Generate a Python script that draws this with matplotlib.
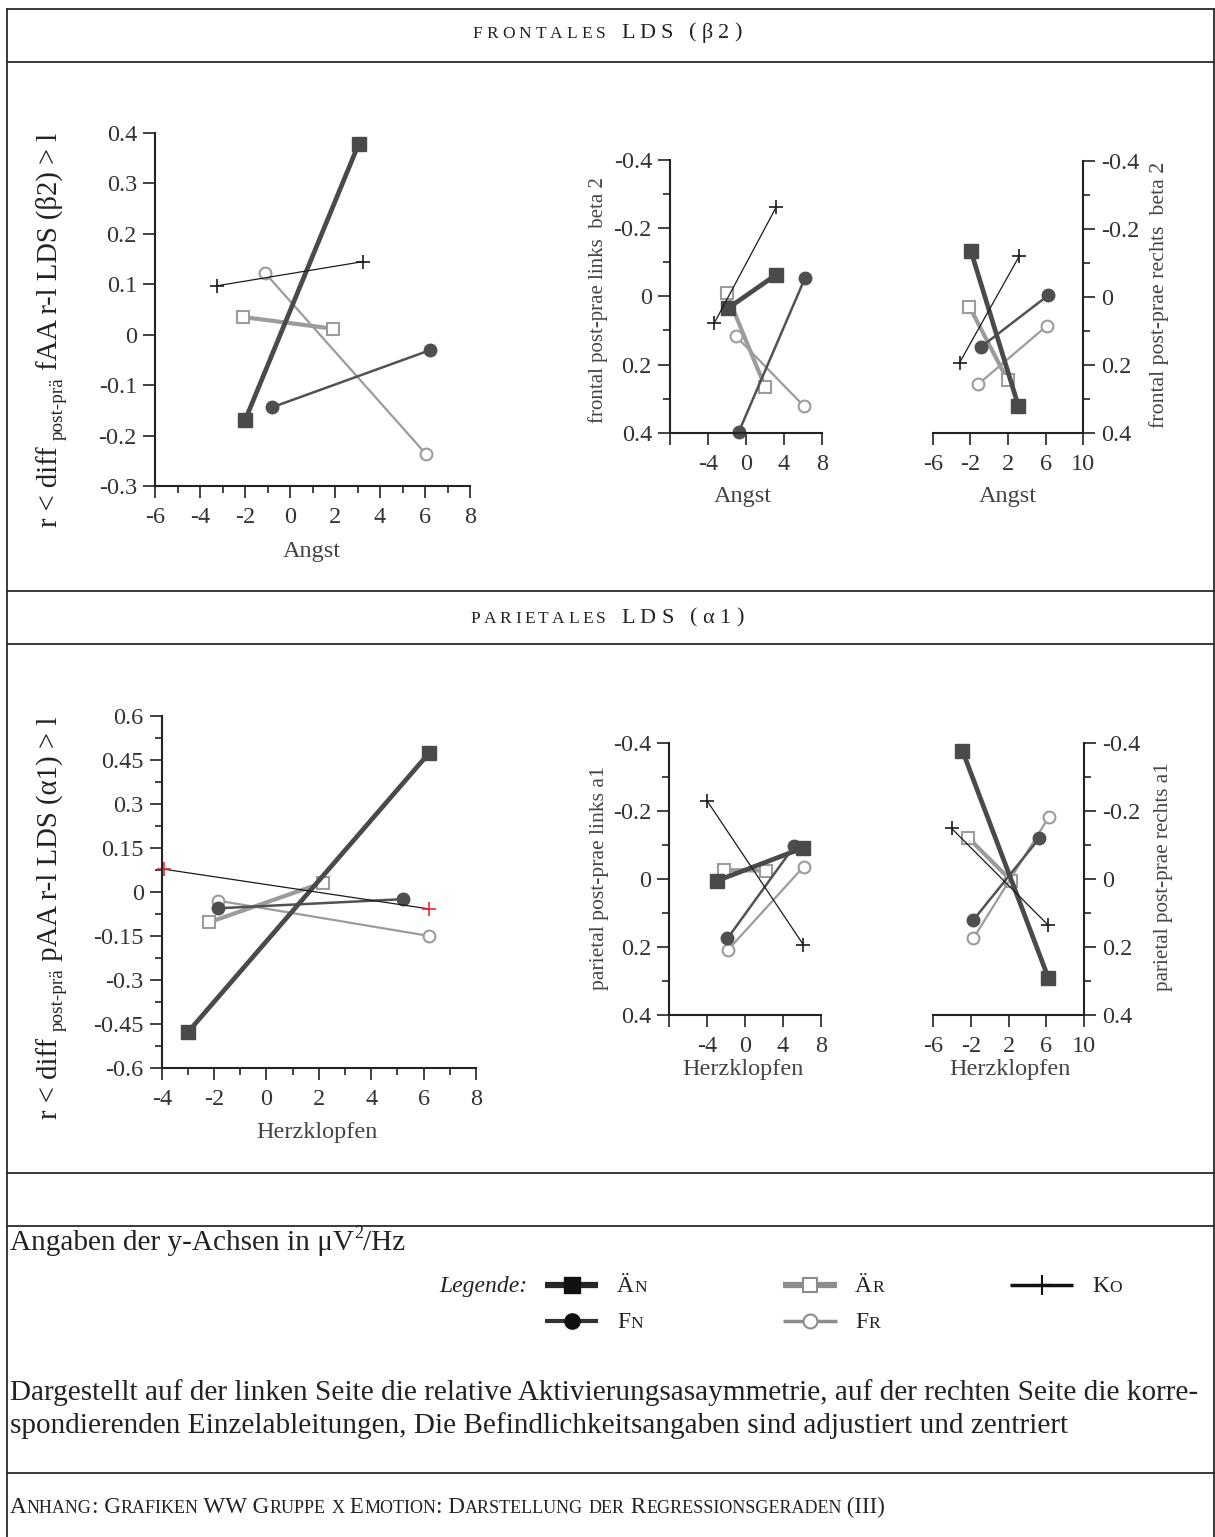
import matplotlib
matplotlib.use("Agg")
import matplotlib.pyplot as plt
from matplotlib.lines import Line2D

W, H = 1215, 1537
plt.rcParams["font.family"] = ["Liberation Serif", "DejaVu Serif"]
plt.rcParams["axes.unicode_minus"] = False

SERIES = ["Än", "Fn", "Är", "Fr", "Ko"]

# ---------------- frontal LDS (beta 2), x = Angst ----------------
# relative asymmetry (r-l)
fa_x0 = [-2.0, -0.8, -2.07, -1.1, -3.25]
fa_x1 = [3.05, 6.2, 1.9, 6.05, 3.25]
fa_y0 = [-0.17, -0.144, 0.035, 0.122, 0.097]
fa_y1 = [0.378, -0.031, 0.012, -0.237, 0.145]
# left lead
fl_x0 = [-1.9, -0.75, -2.05, -1.1, -3.35]
fl_x1 = [3.15, 6.2, 2.0, 6.1, 3.2]
fl_y0 = [0.035, 0.397, -0.009, 0.116, 0.079]
fl_y1 = [-0.063, -0.053, 0.265, 0.322, -0.263]
# right lead
fr_x0 = [-1.95, -0.85, -2.1, -1.15, -3.15]
fr_x1 = [3.1, 6.25, 1.95, 6.1, 3.2]
fr_y0 = [-0.136, 0.147, 0.029, 0.257, 0.194]
fr_y1 = [0.321, -0.004, 0.245, 0.086, -0.12]

# ---------------- parietal LDS (alpha 1), x = Herzklopfen ----------------
pa_x0 = [-3.0, -1.85, -2.2, -1.85, -3.9]
pa_x1 = [6.2, 5.2, 2.15, 6.2, 6.2]
pa_y0 = [-0.477, -0.055, -0.103, -0.029, 0.078]
pa_y1 = [0.473, -0.024, 0.032, -0.149, -0.057]
pl_x0 = [-3.0, -1.85, -2.2, -1.8, -4.0]
pl_x1 = [6.15, 5.2, 2.2, 6.2, 6.15]
pl_y0 = [0.006, 0.175, -0.026, 0.209, -0.229]
pl_y1 = [-0.091, -0.096, -0.024, -0.036, 0.193]
pr_x0 = [-2.9, -1.75, -2.3, -1.75, -4.05]
pr_x1 = [6.2, 5.25, 2.3, 6.3, 6.2]
pr_y0 = [-0.376, 0.121, -0.121, 0.175, -0.148]
pr_y1 = [0.29, -0.119, 0.006, -0.183, 0.136]

# tick values and labels
fa_xticks = [-6, -4, -2, 0, 2, 4, 6, 8]
fa_xlabels = ["-6", "-4", "-2", "0", "2", "4", "6", "8"]
fa_xminor = [-5, -3, -1, 1, 3, 5, 7]
fa_yticks = [-0.3, -0.2, -0.1, 0, 0.1, 0.2, 0.3, 0.4]
fa_ylabels = ["-0.3", "-0.2", "-0.1", "0", "0.1", "0.2", "0.3", "0.4"]

pa_xticks = [-4, -2, 0, 2, 4, 6, 8]
pa_xlabels = ["-4", "-2", "0", "2", "4", "6", "8"]
pa_xminor = [-3, -1, 1, 3, 5, 7]
pa_yticks = [-0.6, -0.45, -0.3, -0.15, 0, 0.15, 0.3, 0.45, 0.6]
pa_ylabels = ["-0.6", "-0.45", "-0.3", "-0.15", "0", "0.15", "0.3", "0.45", "0.6"]
pa_yminor = [-0.525, -0.375, -0.225, -0.075, 0.075, 0.225, 0.375, 0.525]

left_xticks = [-8, -4, 0, 4, 8]
left_xlabels = ["", "-4", "0", "4", "8"]
right_xticks = [-6, -2, 2, 6, 10]
right_xlabels = ["-6", "-2", "2", "6", "10"]
lead_yticks = [-0.4, -0.2, 0, 0.2, 0.4]
lead_ylabels = ["-0.4", "-0.2", "0", "0.2", "0.4"]
lead_yminor = [-0.3, -0.1, 0.1, 0.3]

STYLE = {
    "Än": dict(color="#4a4a4a", lw=3.4, marker="s", ms=9.5, mfc="#4a4a4a", mec="#4a4a4a", mew=1.0),
    "Fn": dict(color="#525252", lw=1.8, marker="o", ms=9.0, mfc="#4f4f4f", mec="#4f4f4f", mew=1.0),
    "Är": dict(color="#9c9c9c", lw=3.0, marker="s", ms=8.5, mfc="white", mec="#9c9c9c", mew=1.5),
    "Fr": dict(color="#9c9c9c", lw=1.6, marker="o", ms=8.5, mfc="white", mec="#9c9c9c", mew=1.5),
    "Ko": dict(color="#1a1a1a", lw=0.9, marker="+", ms=10, mfc="#1a1a1a", mec="#1a1a1a", mew=1.2),
}
LEG_STYLE = {
    "Än": dict(color="#262626", lw=4.5, marker="s", ms=11, mfc="#111111", mec="#111111", mew=1.0),
    "Fn": dict(color="#333333", lw=3.0, marker="o", ms=11, mfc="#111111", mec="#111111", mew=1.0),
    "Är": dict(color="#8c8c8c", lw=4.5, marker="s", ms=10, mfc="white", mec="#8c8c8c", mew=1.5),
    "Fr": dict(color="#8c8c8c", lw=2.5, marker="o", ms=10, mfc="white", mec="#8c8c8c", mew=1.5),
    "Ko": dict(color="#111111", lw=2.5, marker="+", ms=14, mfc="#111111", mec="#111111", mew=1.5),
}

fig = plt.figure(figsize=(W / 100, H / 100), dpi=100)
fig.patch.set_facecolor("white")
renderer = fig.canvas.get_renderer()

_adv_cache = {}


def adv(s, size, style="normal"):
    key = (s, round(size, 3), style)
    if key not in _adv_cache:
        t1 = fig.text(0, 0, "x" + s + "x", fontsize=size, style=style)
        t2 = fig.text(0, 0, "xx", fontsize=size, style=style)
        w = t1.get_window_extent(renderer).width - t2.get_window_extent(renderer).width
        t1.remove()
        t2.remove()
        _adv_cache[key] = w
    return _adv_cache[key]


def run_pieces(runs, split):
    out = []
    for text, size, rise in runs:
        if split:
            out += [(ch, size, rise) for ch in text]
        else:
            out.append((text, size, rise))
    return out


def runs_width(runs, split=False, track=0.0, style="normal"):
    p = run_pieces(runs, split)
    return sum(adv(s, z, style) for s, z, _ in p) + track * (len(p) - 1)


def fit_runs(runs, target, style="normal"):
    k = target / runs_width(runs, style=style)
    return [(t, z * k, r * k) for t, z, r in runs]


def place_runs(x, y, runs, ha="left", split=False, track=0.0, rotation=0,
               color="#222222", style="normal"):
    p = run_pieces(runs, split)
    ws = [adv(s, z, style) for s, z, _ in p]
    total = sum(ws) + track * (len(p) - 1)
    pos = {"left": 0.0, "center": -total / 2, "right": -total}[ha]
    for (s, z, rise), w in zip(p, ws):
        if rotation == 90:
            px, py = x - rise, y - pos
        else:
            px, py = x + pos, y - rise
        if s.strip():
            fig.text(px / W, 1 - py / H, s, fontsize=z, color=color, style=style,
                     rotation=rotation, rotation_mode="anchor", ha="left", va="baseline")
        pos += w + track


def tracked(x0, x1, y, runs, color="#222222"):
    """Letter-spaced text spread from x0 to x1."""
    n = len(run_pieces(runs, True))
    track = (x1 - x0 - runs_width(runs, split=True)) / (n - 1)
    place_runs(x0, y, runs, split=True, track=track, color=color)


def small_caps(text, size, ratio=0.75):
    runs = []
    for ch in text:
        if ch.isascii() and ch.islower():
            item = (ch.upper(), size * ratio, 0.0)
        else:
            item = (ch, size, 0.0)
        if runs and runs[-1][1] == item[1]:
            runs[-1] = (runs[-1][0] + item[0], item[1], 0.0)
        else:
            runs.append(item)
    return runs


def hline(y, x0=7, x1=1213.5, lw=1.3):
    fig.add_artist(Line2D([x0 / W, x1 / W], [1 - y / H] * 2, transform=fig.transFigure,
                          color="#2a2a2a", lw=lw))


def vline(x, y0, y1, lw=1.3):
    fig.add_artist(Line2D([x / W] * 2, [1 - y0 / H, 1 - y1 / H], transform=fig.transFigure,
                          color="#2a2a2a", lw=lw))


def panel(box, xlim, ylim, xmaj, xlab, xmin, ymaj, ylab, ymin, side,
          x0, x1, y0, y1, ko_marker=None):
    l, r, t, b = box
    ax = fig.add_axes([l / W, 1 - b / H, (r - l) / W, (b - t) / H])
    ax.set_facecolor("none")
    ax.set_xlim(*xlim)
    ax.set_ylim(*ylim)
    ax.spines["top"].set_visible(False)
    if side == "left":
        ax.spines["right"].set_visible(False)
    else:
        ax.spines["left"].set_visible(False)
        ax.yaxis.tick_right()
    for sp in ("left", "right", "bottom"):
        ax.spines[sp].set_linewidth(1.5)
        ax.spines[sp].set_color("#222222")
    ax.set_xticks(xmaj)
    ax.set_xticklabels(xlab)
    ax.set_xticks(xmin, minor=True)
    ax.set_yticks(ymaj)
    ax.set_yticklabels(ylab)
    ax.set_yticks(ymin, minor=True)
    ax.tick_params(which="major", direction="out", length=8.5, width=1.2, color="#222222",
                   labelsize=17.5, labelcolor="#333333")
    ax.tick_params(axis="x", which="major", pad=6.5)
    ax.tick_params(axis="y", which="major", pad=4.5)
    ax.tick_params(which="minor", direction="out", length=5, width=1.2, color="#222222")
    for i in [2, 3, 1, 0, 4]:
        st = dict(STYLE[SERIES[i]])
        if SERIES[i] == "Ko" and ko_marker:
            st["mec"] = ko_marker
            st["mfc"] = ko_marker
        ax.plot([x0[i], x1[i]], [y0[i], y1[i]], clip_on=False, **st)
    return ax


# ---------------- frame ----------------
for y in (9, 62, 591, 644, 1173, 1226, 1473):
    hline(y)
vline(7, 9, 1537)
vline(1213.5, 9, 1537)

# ---------------- section headers ----------------
HEAD_BIG, HEAD_SMALL = 16.0, 12.5
tracked(472.7, 606.0, 37.7, [("FRONTALES", HEAD_SMALL, 0.0)])
tracked(621.0, 741.7, 37.7, [("LDS (β2)", HEAD_BIG, 0.0)])
tracked(470.7, 606.0, 622.7, [("PARIETALES", HEAD_SMALL, 0.0)])
tracked(621.0, 743.3, 622.7, [("LDS (α1)", HEAD_BIG, 0.0)])

# ---------------- frontal panels ----------------
panel((155, 470, 133, 486), (-6, 8), (-0.3, 0.4), fa_xticks, fa_xlabels, fa_xminor,
      fa_yticks, fa_ylabels, [], "left", fa_x0, fa_x1, fa_y0, fa_y1)
panel((670, 822, 160, 432.7), (-8, 8), (0.4, -0.4), left_xticks, left_xlabels, [],
      lead_yticks, lead_ylabels, lead_yminor, "left", fl_x0, fl_x1, fl_y0, fl_y1)
panel((932.7, 1083.3, 161, 432.7), (-6, 10), (0.4, -0.4), right_xticks, right_xlabels, [],
      lead_yticks, lead_ylabels, lead_yminor, "right", fr_x0, fr_x1, fr_y0, fr_y1)

# ---------------- parietal panels ----------------
panel((161.7, 476, 716, 1068.3), (-4, 8), (-0.6, 0.6), pa_xticks, pa_xlabels, pa_xminor,
      pa_yticks, pa_ylabels, pa_yminor, "left", pa_x0, pa_x1, pa_y0, pa_y1,
      ko_marker="#e8262d")
panel((669.3, 820.7, 742.7, 1015), (-8, 8), (0.4, -0.4), left_xticks, left_xlabels, [],
      lead_yticks, lead_ylabels, lead_yminor, "left", pl_x0, pl_x1, pl_y0, pl_y1)
panel((933.3, 1084, 742.7, 1015), (-6, 10), (0.4, -0.4), right_xticks, right_xlabels, [],
      lead_yticks, lead_ylabels, lead_yminor, "right", pr_x0, pr_x1, pr_y0, pr_y1)

# ---------------- axis titles ----------------
for xc, yb, s in ((312, 557, "Angst"), (743, 502, "Angst"), (1008, 502, "Angst"),
                  (317, 1138, "Herzklopfen"), (743, 1075, "Herzklopfen"),
                  (1010, 1075, "Herzklopfen")):
    fig.text(xc / W, 1 - yb / H, s, fontsize=17.5, color="#444444", ha="center", va="baseline")

# asymmetry labels with subscript
for yc, band in ((330, "fAA r-l LDS (β2) > l"), (918, "pAA r-l LDS (α1) > l")):
    runs = [("r < diff ", 24, 0.0), ("post-prä", 16, -7.0), (" " + band, 24, 0.0)]
    length = 396 if yc < 600 else 403
    place_runs(57, yc, fit_runs(runs, length), ha="center", rotation=90, color="#222222")

# single-lead labels
for xb, yc, length, s in ((603, 300, 245, "frontal post-prae links  beta 2"),
                          (1164, 295, 266, "frontal post-prae rechts  beta 2"),
                          (604, 878, 223, "parietal post-prae links a1"),
                          (1168, 877, 228, "parietal post-prae rechts a1")):
    place_runs(xb, yc, fit_runs([(s, 13, 0.0)], length), ha="center", rotation=90,
               color="#444444")

# ---------------- notes and legend ----------------
p1 = ("Dargestellt auf der linken Seite die relative Aktivierungsasaymmetrie, "
      "auf der rechten Seite die korre-")
p2 = "spondierenden Einzelableitungen, Die Befindlichkeitsangaben sind adjustiert und zentriert"
ps = fit_runs([(p1, 16, 0.0)], 1188)[0][1]
place_runs(10, 1400, [(p1, ps, 0.0)])
place_runs(10, 1433, [(p2, ps, 0.0)])

place_runs(10, 1250, [("Angaben der y-Achsen in μV", ps, 0.0), ("2", ps * 0.62, ps * 0.55),
                      ("/Hz", ps, 0.0)])

fig.text(527 / W, 1 - 1292 / H, "Legende:", fontsize=17, style="italic", color="#222222",
         ha="right", va="baseline")

legend_pos = {"Än": (545, 598, 1285, 617), "Är": (783, 837, 1285, 855),
              "Ko": (1010, 1073, 1285, 1092), "Fn": (545, 598, 1321, 617),
              "Fr": (783, 837, 1321, 855)}
for key, (lx0, lx1, ly, tx) in legend_pos.items():
    st = LEG_STYLE[key]
    fig.add_artist(Line2D([lx0 / W, lx1 / W], [1 - ly / H] * 2, transform=fig.transFigure,
                          color=st["color"], lw=st["lw"], solid_capstyle="butt"))
    fig.add_artist(Line2D([(lx0 + lx1) / 2 / W], [1 - ly / H], transform=fig.transFigure,
                          ls="none", marker=st["marker"], ms=st["ms"], mfc=st["mfc"],
                          mec=st["mec"], mew=st["mew"]))
    place_runs(tx, ly + 7, small_caps(key, 17, 0.74), color="#222222")

foot = small_caps("Anhang: Grafiken WW Gruppe x Emotion: Darstellung der Regressionsgeraden (III)",
                  14, 0.78)
place_runs(10, 1513, fit_runs(foot, 877), color="#222222")

fig.savefig("out.png", dpi=100, facecolor="white")
